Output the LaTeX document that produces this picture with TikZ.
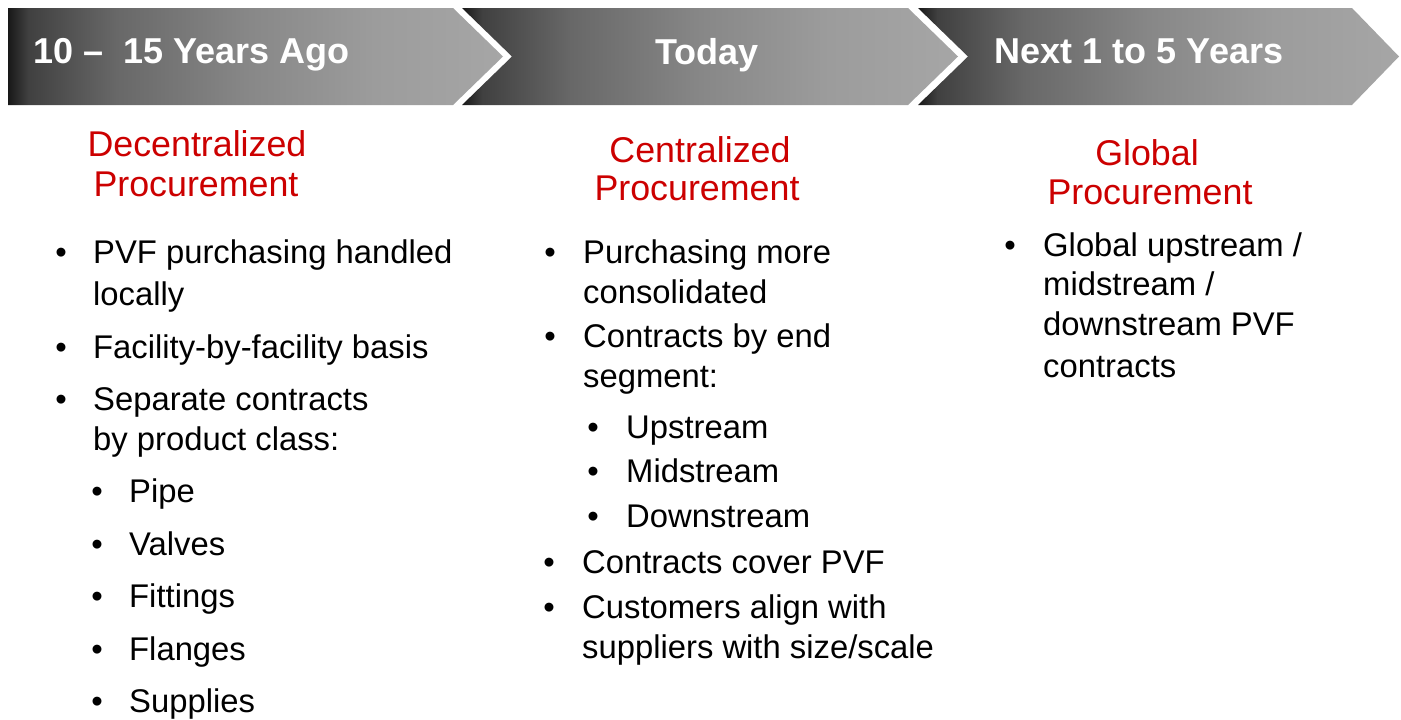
\documentclass[tikz,border=0pt]{standalone}
\usepackage{fontspec}
\setmainfont{Liberation Sans}
\definecolor{procred}{RGB}{204,0,0}
\definecolor{chA}{HTML}{181818}
\definecolor{chB}{HTML}{404040}
\definecolor{chC}{HTML}{686868}
\definecolor{chD}{HTML}{878787}
\definecolor{chE}{HTML}{9C9C9C}
\definecolor{chF}{HTML}{A6A6A6}
% dark-to-light band used for the three timeline chevrons
\pgfdeclarehorizontalshading{chevshade}{100bp}{color(0bp)=(chA); color(25bp)=(chA); color(27bp)=(chB); color(36bp)=(chC); color(49bp)=(chD); color(62bp)=(chE); color(75bp)=(chF); color(100bp)=(chF)}
\tikzset{
  chevron/.style={shading=chevshade},
  hdr/.style={font=\fontsize{36}{40}\selectfont\bfseries, text=white, inner sep=0pt},
  ttl/.style={font=\fontsize{35.8}{40}\selectfont, text=procred, inner sep=0pt, anchor=base},
  txt/.style={font=\fontsize{32.8}{40}\selectfont, inner sep=0pt, anchor=base west},
  dot/.style={font=\fontsize{32.8}{40}\selectfont, inner sep=0pt, anchor=base},
}
\begin{document}
\begin{tikzpicture}[x=1pt,y=-1pt]
\useasboundingbox (0,0) rectangle (1401,720);
\fill[white] (0,0) rectangle (1401,720);

% timeline chevrons
\shade[chevron] (8,8) -- (453,8) -- (503,56.5) -- (453,105) -- (8,105) -- cycle;
\shade[chevron] (462,8) -- (908,8) -- (958,56.5) -- (908,105) -- (462,105) -- (512,56.5) -- cycle;
\shade[chevron] (918,8) -- (1352,8) -- (1399,56.5) -- (1352,105) -- (918,105) -- (968,56.5) -- cycle;

\node[hdr, anchor=base west] (h1) at (33,63) {10 –\ \ 15 Years Ago};
\node[hdr, anchor=base] (h2) at (707,64) {Today};
\node[hdr, anchor=base] (h3) at (1139,63) {Next 1 to 5 Years};

% column titles
\node[ttl] (t1a) at (197,156) {Decentralized};
\node[ttl] (t1b) at (196,196) {Procurement};
\node[ttl] (t2a) at (700,162) {Centralized};
\node[ttl] (t2b) at (697,200) {Procurement};
\node[ttl] (t3a) at (1147,165) {Global};
\node[ttl] (t3b) at (1150,204) {Procurement};

% first column
\node[dot] (b11) at (61,263) {•};
\node[txt] (l11a) at (93,263) {PVF purchasing handled};
\node[txt] (l11b) at (93,305) {locally};
\node[dot] (b12) at (61,358) {•};
\node[txt] (l12) at (93,358) {Facility-by-facility basis};
\node[dot] (b13) at (61,410) {•};
\node[txt] (l13a) at (93,410) {Separate contracts};
\node[txt] (l13b) at (93,450) {by product class:};
\node[dot] (s11) at (97,502) {•};
\node[txt] (p11) at (129,502) {Pipe};
\node[dot] (s12) at (97,555) {•};
\node[txt] (p12) at (129,555) {Valves};
\node[dot] (s13) at (97,607) {•};
\node[txt] (p13) at (129,607) {Fittings};
\node[dot] (s14) at (97,660) {•};
\node[txt] (p14) at (129,660) {Flanges};
\node[dot] (s15) at (97,712) {•};
\node[txt] (p15) at (129,712) {Supplies};

% second column
\node[dot] (b21) at (550,263) {•};
\node[txt] (l21a) at (583,263) {Purchasing more};
\node[txt] (l21b) at (583,303) {consolidated};
\node[dot] (b22) at (550,347) {•};
\node[txt] (l22a) at (583,347) {Contracts by end};
\node[txt] (l22b) at (583,387) {segment:};
\node[dot] (s21) at (593,438) {•};
\node[txt] (p21) at (626,438) {Upstream};
\node[dot] (s22) at (593,482) {•};
\node[txt] (p22) at (626,482) {Midstream};
\node[dot] (s23) at (593,527) {•};
\node[txt] (p23) at (626,527) {Downstream};
\node[dot] (b23) at (549,573) {•};
\node[txt] (l23) at (582,573) {Contracts cover PVF};
\node[dot] (b24) at (549,618) {•};
\node[txt] (l24a) at (582,618) {Customers align with};
\node[txt] (l24b) at (582,658) {suppliers with size/scale};

% third column
\node[dot] (b31) at (1010,256) {•};
\node[txt] (l31a) at (1043,256) {Global upstream /};
\node[txt] (l31b) at (1043,295) {midstream /};
\node[txt] (l31c) at (1043,335) {downstream PVF};
\node[txt] (l31d) at (1043,377) {contracts};
\end{tikzpicture}
\end{document}
